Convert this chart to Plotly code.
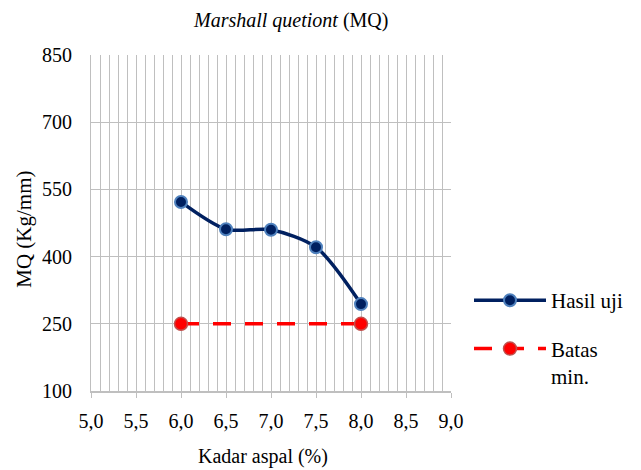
import plotly.graph_objects as go

kadar = [6.0, 6.5, 7.0, 7.5, 8.0]
mq_hasil = [522, 461, 460, 421, 294]
batas_x = [6.0, 8.0]
batas_min = [250, 250]
x_ticks = [5.0, 5.5, 6.0, 6.5, 7.0, 7.5, 8.0, 8.5, 9.0]
x_tick_labels = ["5,0", "5,5", "6,0", "6,5", "7,0", "7,5", "8,0", "8,5", "9,0"]
y_ticks = [100, 250, 400, 550, 700, 850]

FONT = "Liberation Serif"
GRID = "#bfbfbf"

fig = go.Figure()
fig.add_trace(go.Scatter(
    x=kadar, y=mq_hasil, mode="lines+markers", name="Hasil uji", legendgroup="g1",
    line=dict(color="#002060", width=3.5, shape="spline", smoothing=0.8),
    marker=dict(size=12, color="#002060", line=dict(color="#4f81bd", width=2)),
))
fig.add_trace(go.Scatter(
    x=batas_x, y=batas_min, mode="lines+markers", name="Batas<br>min.", legendgroup="g2",
    line=dict(color="#ff0000", width=3.5, dash="18px,14px"),
    marker=dict(size=13, color="#ff0000", line=dict(color="#c0504d", width=1.5)),
))

fig.update_layout(
    width=641, height=470,
    margin=dict(l=91, r=190, t=55, b=79),
    paper_bgcolor="white", plot_bgcolor="white",
    font=dict(family=FONT, size=20, color="black"),
    showlegend=True,
    legend=dict(x=1.05, y=0.33, xanchor="left", yanchor="top",
                font=dict(family=FONT, size=21), itemwidth=72, valign="top",
                traceorder="grouped", tracegroupgap=18, bgcolor="rgba(0,0,0,0)"),
    annotations=[
        dict(text="<i>Marshall quetiont</i> (MQ)", x=0.553, y=1.0, xref="paper", yref="paper",
             xanchor="center", yanchor="bottom", yshift=21, showarrow=False,
             font=dict(family=FONT, size=20)),
        dict(text="Kadar aspal (%)", x=0.478, y=0, xref="paper", yref="paper",
             xanchor="center", yanchor="top", yshift=-52, showarrow=False,
             font=dict(family=FONT, size=20)),
        dict(text="MQ (Kg/mm)", x=0, y=0.48, xref="paper", yref="paper", textangle=-90,
             xanchor="center", yanchor="middle", xshift=-67, showarrow=False,
             font=dict(family=FONT, size=21)),
    ],
)
fig.update_xaxes(
    range=[5.0, 9.0], tickvals=x_ticks, ticktext=x_tick_labels,
    showgrid=True, gridcolor=GRID, gridwidth=1,
    minor=dict(dtick=0.1, showgrid=True, gridcolor=GRID, gridwidth=1, ticks=""),
    ticks="outside", ticklen=5, tickcolor=GRID, ticklabelstandoff=6,
    showline=True, linecolor=GRID, linewidth=1.5, zeroline=False,
    tickfont=dict(family=FONT, size=20),
)
fig.update_yaxes(
    range=[100, 850], tickvals=y_ticks,
    showgrid=True, gridcolor=GRID, gridwidth=1,
    ticks="", showline=True, linecolor=GRID, linewidth=1, zeroline=False,
    ticklabelstandoff=14,
    tickfont=dict(family=FONT, size=20),
)

fig.write_html("out.html")
